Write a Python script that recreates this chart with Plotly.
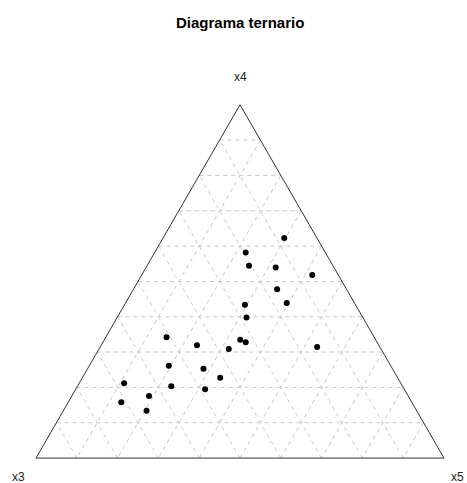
import plotly.graph_objects as go

# Compositions (x3, x4, x5), each row sums to 1
x3 = [0.080, 0.195, 0.206, 0.143, 0.064, 0.170, 0.166, 0.271, 0.285, 0.509, 0.332, 0.322,
      0.154, 0.446, 0.373, 0.544, 0.463, 0.435, 0.678, 0.567, 0.488, 0.635, 0.712, 0.662]
x4 = [0.623, 0.582, 0.544, 0.539, 0.518, 0.478, 0.439, 0.434, 0.398, 0.342, 0.335, 0.328,
      0.314, 0.319, 0.309, 0.261, 0.253, 0.227, 0.212, 0.203, 0.195, 0.176, 0.158, 0.134]
x5 = [round(1 - a - b, 3) for a, b in zip(x3, x4)]

W, H = 467, 483
# triangle corners in pixels: left (36,458), right (444,458), apex (240,104.7)
dom_x = [36 / W, 444 / W]
dom_y = [(H - 458.3) / H, (H - 104.5) / H]

fig = go.Figure(go.Scatterternary(
    a=x4, b=x3, c=x5,
    mode="markers",
    marker=dict(color="black", size=6, line=dict(width=0)),
    hoverinfo="a+b+c",
    showlegend=False,
))

axis_style = dict(
    min=0, dtick=0.1, tick0=0,
    showticklabels=False, ticks="",
    showgrid=True, gridcolor="#cccccc", gridwidth=1, griddash="4px,4px",
    showline=True, linecolor="#333333", linewidth=1,
    title=dict(text=""),
)

fig.update_layout(
    width=W, height=H,
    margin=dict(l=0, r=0, t=0, b=0),
    paper_bgcolor="white",
    font=dict(family="Liberation Sans, Arial, sans-serif", color="black"),
    ternary=dict(
        sum=1,
        bgcolor="white",
        domain=dict(x=dom_x, y=dom_y),
        aaxis=axis_style,
        baxis=axis_style,
        caxis=axis_style,
    ),
    annotations=[
        dict(text="<b>Diagrama ternario</b>", x=240 / W, y=1 - 22 / H,
             xref="paper", yref="paper", xanchor="center", yanchor="middle",
             showarrow=False, font=dict(size=15)),
        dict(text="x4", x=240 / W, y=1 - 77.3 / H, xref="paper", yref="paper",
             xanchor="center", yanchor="middle", showarrow=False,
             font=dict(size=12, color="#222222")),
        dict(text="x3", x=18.3 / W, y=1 - 477 / H, xref="paper", yref="paper",
             xanchor="center", yanchor="middle", showarrow=False,
             font=dict(size=12, color="#222222")),
        dict(text="x5", x=466 / W, y=1 - 477 / H, xref="paper", yref="paper",
             xanchor="right", yanchor="middle", showarrow=False,
             font=dict(size=12, color="#222222")),
    ],
)

fig.write_html("out.html")
